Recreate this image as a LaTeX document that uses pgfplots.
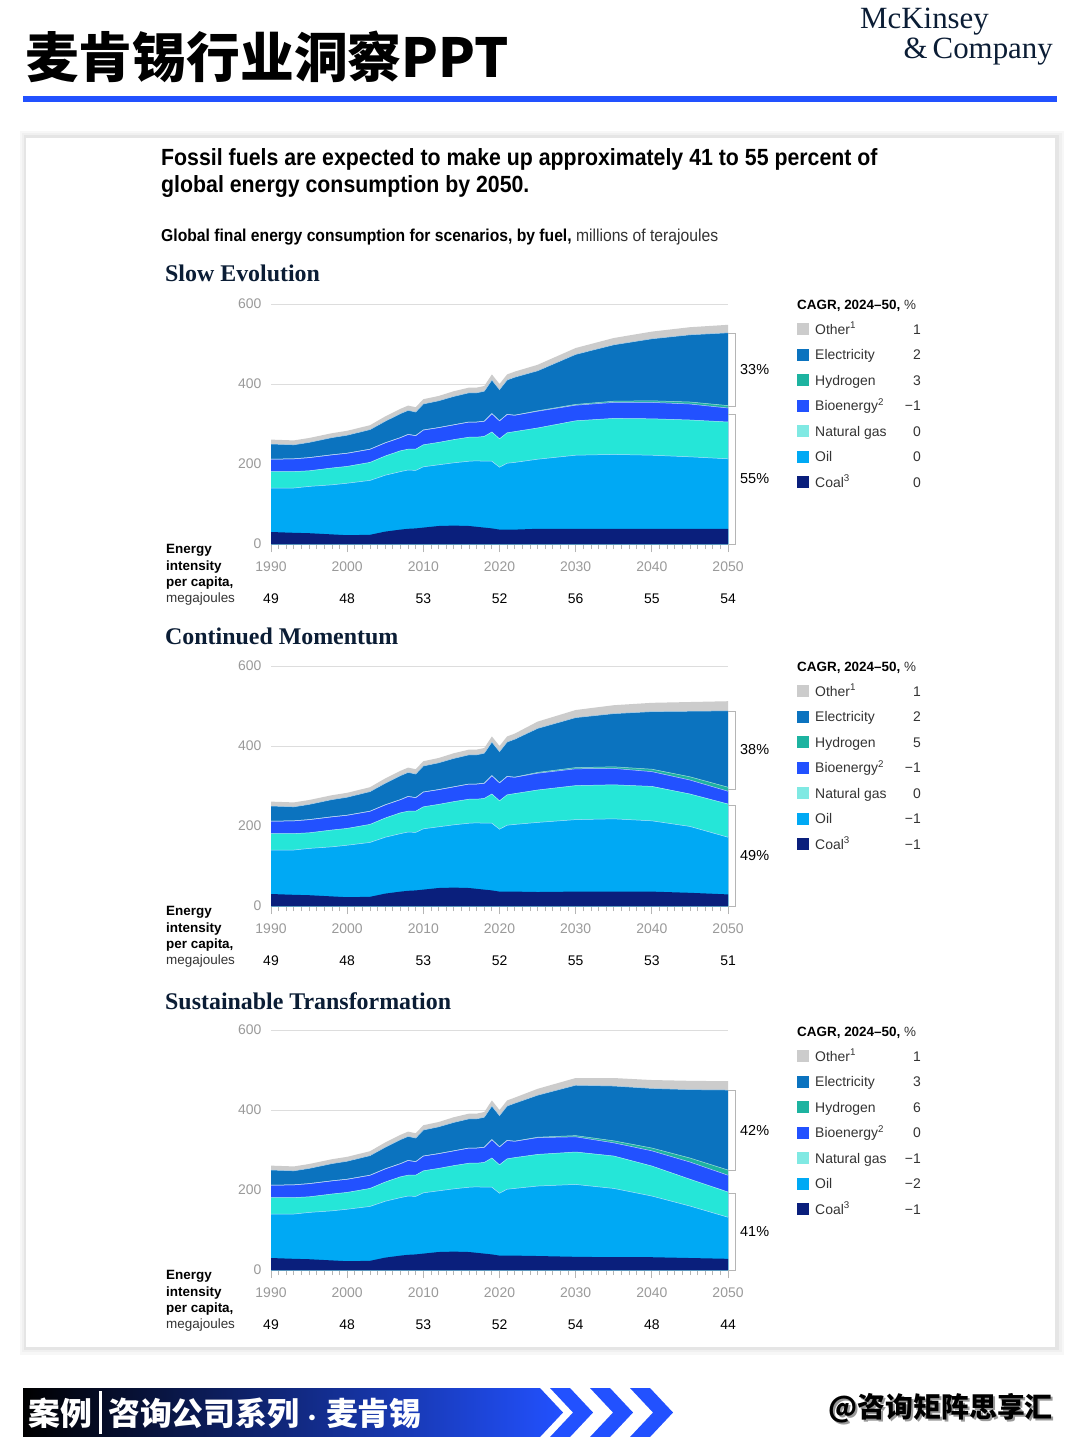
\documentclass[border=0pt]{standalone}
\usepackage{fontspec}
\setmainfont{Liberation Sans}
\newfontfamily\serif{Liberation Serif}
\newfontfamily\cjk{Noto Sans CJK SC}
\newfontfamily\cond{Liberation Sans}[FakeStretch=0.91]
\usepackage{pgfplots}
\pgfplotsset{compat=1.18}
\usepackage{pgfplotstable}

\definecolor{cOther}{HTML}{CCCCCC}
\definecolor{cElec}{HTML}{0B73BF}
\definecolor{cHyd}{HTML}{1DB3A0}
\definecolor{cBio}{HTML}{2251FF}
\definecolor{cGas}{HTML}{25E6D8}
\definecolor{cGasL}{HTML}{80E9E3}
\definecolor{cOil}{HTML}{00A9F4}
\definecolor{cCoal}{HTML}{0A1F7C}
\definecolor{tickgray}{HTML}{9A9A9A}
\definecolor{legtext}{HTML}{333333}
\definecolor{navy}{HTML}{0B1D35}
\definecolor{bannerblue}{HTML}{2251FF}
\definecolor{gridgray}{HTML}{DDDDDD}
\definecolor{brk}{HTML}{B5B5B5}

\newcommand{\f}[1]{\fontsize{#1}{#1}\selectfont}

% cumulative tops of each layer (millions of TJ)
\pgfplotstableread{
year total elec hyd bio gas oil coal
1990 261 250 212 212 181 140 30
1993 259 248 213 213 181 140 28
1995 265 254 216 216 183 144 27
1998 277 266 223 223 190 148 24
2000 283 272 227 227 194 152 22
2003 297 286 237 237 204 159 23
2005 319 307 253 253 220 172 31
2007 338 326 266 266 233 181 36
2008 346 334 274 274 237 185 38
2009 342 330 271 271 237 184 39
2010 362 350 285 285 248 193 41
2012 370 358 291 291 254 198 45
2014 382 369 298 298 261 203 46
2016 391 378 305 305 267 207 45
2017 391 378 305 305 267 208 43
2018 395 382 307 307 269 207 41
2019 424 410 326 326 280 207 39
2020 400 386 308 308 263 192 36
2021 424 410 324 324 278 202 36
2022 431 417 322 322 281 204 36
2025 448 433 333 332 290 212 38
2030 490 474 349 347 308 222 38
2035 515 498 357 354 314 224 38
2040 531 513 358 354 313 222 38
2045 542 523 355 350 310 218 38
2050 548 528 346 340 305 213 38
}\tA
\pgfplotstableread{
year total elec hyd bio gas oil coal
1990 261 250 212 212 181 140 30
1993 259 248 213 213 181 140 28
1995 265 254 216 216 183 144 27
1998 277 266 223 223 190 148 24
2000 283 272 227 227 194 152 22
2003 297 286 237 237 204 159 23
2005 319 307 253 253 220 172 31
2007 338 326 266 266 233 181 36
2008 346 334 274 274 237 185 38
2009 342 330 271 271 237 184 39
2010 362 350 285 285 248 193 41
2012 370 358 291 291 254 198 45
2014 382 369 298 298 261 203 46
2016 391 378 305 305 267 207 45
2017 391 378 305 305 267 208 43
2018 395 382 307 307 269 207 41
2019 424 410 326 326 280 207 39
2020 400 386 308 308 263 192 36
2021 424 410 324 324 278 202 36
2022 431 417 322 322 281 204 36
2025 461 444 334 332 290 209 35
2030 490 471 346 343 301 216 36
2035 502 481 348 344 303 218 36
2040 508 486 342 336 299 213 36
2045 510 487 323 315 280 199 33
2050 512 488 297 287 255 172 29
}\tB
\pgfplotstableread{
year total elec hyd bio gas oil coal
1990 261 250 212 212 181 140 30
1993 259 248 213 213 181 140 28
1995 265 254 216 216 183 144 27
1998 277 266 223 223 190 148 24
2000 283 272 227 227 194 152 22
2003 297 286 237 237 204 159 23
2005 319 307 253 253 220 172 31
2007 338 326 266 266 233 181 36
2008 346 334 274 274 237 185 38
2009 342 330 271 271 237 184 39
2010 362 350 285 285 248 193 41
2012 370 358 291 291 254 198 45
2014 382 369 298 298 261 203 46
2016 391 378 305 305 267 207 45
2017 391 378 305 305 267 208 43
2018 395 382 307 307 269 207 41
2019 424 410 326 326 280 207 39
2020 400 386 308 308 263 192 36
2021 424 410 324 324 278 202 36
2022 431 417 322 322 281 204 36
2025 453 437 332 331 289 210 35
2030 480 462 336 333 295 214 33
2035 480 460 323 318 285 204 32
2040 475 454 305 298 260 185 32
2045 473 451 280 270 227 160 30
2050 472 450 250 237 195 132 28
}\tC

\pgfplotsset{
  energy/.style={
    scale only axis, width=457bp, height=240bp,
    xmin=1990, xmax=2050, ymin=0, ymax=600,
    anchor=south west, clip=false,
    axis x line*=bottom, axis y line*=left,
    y axis line style={draw=none},
    x axis line style={draw=brk, line width=0.8bp},
    xtick={1990,2000,...,2050}, minor x tick num=9,
    ytick={0,200,400,600},
    tick align=outside,
    major tick length=8bp, minor tick length=5bp,
    xtick style={draw=brk, line width=0.8bp},
    ytick style={draw=none},
    ymajorgrids, grid style={draw=gridgray, line width=1bp},
    ticklabel style={font=\f{14}, text=tickgray},
    xticklabel style={yshift=-6bp},
    yticklabel style={xshift=2bp},
    /pgf/number format/1000 sep={},
    /pgf/number format/assume math mode=true,
  }
}

\newcommand{\fuel}[1]{%
  \addplot[fill=cOther,draw=none] table[x=year,y=total]{#1}\closedcycle;
  \addplot[fill=cElec,draw=none] table[x=year,y=elec]{#1}\closedcycle;
  \addplot[fill=cHyd,draw=none] table[x=year,y=hyd]{#1}\closedcycle;
  \addplot[fill=cBio,draw=none] table[x=year,y=bio]{#1}\closedcycle;
  \addplot[fill=cGas,draw=none] table[x=year,y=gas]{#1}\closedcycle;
  \addplot[fill=cOil,draw=none] table[x=year,y=oil]{#1}\closedcycle;
  \addplot[fill=cCoal,draw=none] table[x=year,y=coal]{#1}\closedcycle;
  \addplot[white!70!cElec,line width=0.5bp] table[x=year,y=elec]{#1};
  \addplot[white!60!cHyd,line width=0.5bp] table[x=year,y=hyd]{#1};
  \addplot[white!70!cBio,line width=0.5bp] table[x=year,y=bio]{#1};
  \addplot[white!60!cGas,line width=0.5bp] table[x=year,y=gas]{#1};
  \addplot[white!70!cOil,line width=0.5bp] table[x=year,y=oil]{#1};
}

\newcommand{\legrow}[4]{%
  \fill[#2] (797,{#1-6}) rectangle (809,{#1+6});
  \node[anchor=base west,inner sep=0,text=legtext,font=\f{14}] at (815,{#1+5}) {#3};
  \node[anchor=base east,inner sep=0,text=legtext,font=\f{14}] at (921,{#1+5}) {#4};
}
\newcommand{\legendblock}[8]{%
  \node[anchor=base west,inner sep=0,font=\f{13.5}] at (797,{#1+5}) {\textbf{CAGR, 2024–50,} {\color{legtext}\%}};
  \legrow{#1+25}{cOther}{Other\textsuperscript{1}}{#2}
  \legrow{#1+50.5}{cElec}{Electricity}{#3}
  \legrow{#1+76}{cHyd}{Hydrogen}{#4}
  \legrow{#1+101.5}{cBio}{Bioenergy\textsuperscript{2}}{#5}
  \legrow{#1+127}{cGasL}{Natural gas}{#6}
  \legrow{#1+152.5}{cOil}{Oil}{#7}
  \legrow{#1+178}{cCoal}{Coal\textsuperscript{3}}{#8}
}
\newcommand{\intens}[8]{%
  \node[anchor=base west,inner sep=0,font=\bfseries\f{13.5}] at (166,{#1+9}) {Energy};
  \node[anchor=base west,inner sep=0,font=\bfseries\f{13.5}] at (166,{#1+26}) {intensity};
  \node[anchor=base west,inner sep=0,font=\bfseries\f{13.5}] at (166,{#1+42}) {per capita,};
  \node[anchor=base west,inner sep=0,font=\f{13.5},text=legtext] at (166,{#1+58}) {megajoules};
  \node[anchor=base,inner sep=0,font=\f{14}] at (271,{#1+59}) {#2};
  \node[anchor=base,inner sep=0,font=\f{14}] at (347.2,{#1+59}) {#3};
  \node[anchor=base,inner sep=0,font=\f{14}] at (423.3,{#1+59}) {#4};
  \node[anchor=base,inner sep=0,font=\f{14}] at (499.5,{#1+59}) {#5};
  \node[anchor=base,inner sep=0,font=\f{14}] at (575.7,{#1+59}) {#6};
  \node[anchor=base,inner sep=0,font=\f{14}] at (651.8,{#1+59}) {#7};
  \node[anchor=base,inner sep=0,font=\f{14}] at (728,{#1+59}) {#8};
}
\newcommand{\brkt}[3]{%
  \draw[brk,line width=1bp] (728,#1) -- (735.5,#1) -- (735.5,#2) -- (728,#2);
  \node[anchor=west,inner sep=0,font=\f{14.5}] at (740,{(#1+#2)/2}) {#3};
}

\begin{document}
\begin{tikzpicture}
\begin{scope}[x=1bp,y=-1bp]
  \useasboundingbox (0,0) rectangle (1080,1437);
  \fill[white] (0,0) rectangle (1080,1437);
  % header
  \node[anchor=west,inner sep=0,font=\cjk\bfseries\f{54}] at (25,57) {麦肯锡行业洞察PPT};
  \node[anchor=base west,inner sep=0,font=\serif\f{31},text=navy] at (860,29) {McKinsey};
  \node[anchor=base east,inner sep=0,font=\serif\f{31},text=navy] at (1053,59) {\&\,Company};
  \fill[bannerblue] (23,96) rectangle (1057,102);
  % card with soft shadow
  \fill[black!3] (20,131) rectangle (1064,1355);
  \fill[black!6] (22,133) rectangle (1062,1352);
  \fill[black!10] (24,135) rectangle (1059,1350);
  \fill[white] (26,138) rectangle (1055,1347);
  % titles
  \node[anchor=base west,inner sep=0,font=\cond\bfseries\f{23.5}] at (161,166) {Fossil fuels are expected to make up approximately 41 to 55 percent of};
  \node[anchor=base west,inner sep=0,font=\cond\bfseries\f{23.5}] at (161,193) {global energy consumption by 2050.};
  \node[anchor=base west,inner sep=0,font=\cond\f{17.3}] at (161,241) {\textbf{Global final energy consumption for scenarios, by fuel,} {\color{legtext}millions of terajoules}};
  \node[anchor=base west,inner sep=0,font=\serif\bfseries\f{24},text=navy] at (165,281) {Slow Evolution};
  \node[anchor=base west,inner sep=0,font=\serif\bfseries\f{24},text=navy] at (165,644) {Continued Momentum};
  \node[anchor=base west,inner sep=0,font=\serif\bfseries\f{24},text=navy] at (165,1009) {Sustainable Transformation};
\end{scope}

\begin{axis}[energy, at={(271bp,-544bp)}]
  \fuel{\tA}
\end{axis}
\begin{axis}[energy, at={(271bp,-906bp)}]
  \fuel{\tB}
\end{axis}
\begin{axis}[energy, at={(271bp,-1270bp)}]
  \fuel{\tC}
\end{axis}

\begin{scope}[x=1bp,y=-1bp]
  \legendblock{304}{1}{2}{3}{−1}{0}{0}{0}
  \legendblock{666}{1}{2}{5}{−1}{0}{−1}{−1}
  \legendblock{1031}{1}{3}{6}{0}{−1}{−2}{−1}
  \intens{544}{49}{48}{53}{52}{56}{55}{54}
  \intens{906}{49}{48}{53}{52}{55}{53}{51}
  \intens{1270}{49}{48}{53}{52}{54}{48}{44}
  \brkt{333}{406}{33\%}
  \brkt{414}{544}{55\%}
  \brkt{711}{789}{38\%}
  \brkt{805}{906}{49\%}
  \brkt{1090}{1170}{42\%}
  \brkt{1193}{1270}{41\%}
  % footer
  \shade[left color=black,right color=bannerblue] (23,1388) -- (540,1388) -- (563,1412.5) -- (540,1437) -- (23,1437) -- cycle;
  \foreach \s in {0,40,80} {
    \fill[bannerblue] ({550+\s},1388) -- ({570+\s},1388) -- ({593+\s},1412.5) -- ({570+\s},1437) -- ({550+\s},1437) -- ({573+\s},1412.5) -- cycle;
  }
  \node[anchor=west,inner sep=0,font=\cjk\bfseries\f{32},text=white] at (28,1413) {案例};
  \fill[white] (99,1391) rectangle (102,1434);
  \node[anchor=west,inner sep=0,font=\cjk\bfseries\f{32},text=white] at (108,1413) {咨询公司系列{\f{20}\,·\,}麦肯锡};
  \node[anchor=east,inner sep=0,font=\cjk\bfseries\f{28},text=black!40] at (1055,1410) {@咨询矩阵思享汇};
  \node[anchor=east,inner sep=0,font=\cjk\bfseries\f{28},text=black] at (1053,1408) {@咨询矩阵思享汇};
\end{scope}
\end{tikzpicture}
\end{document}
